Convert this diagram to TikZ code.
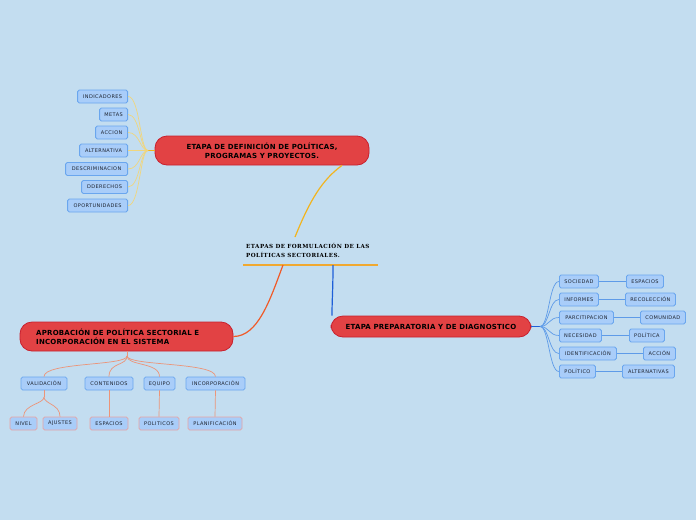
\documentclass[tikz,border=0pt]{standalone}
\usepackage{fontspec}
\newfontfamily\dvs{DejaVu Sans}[LetterSpace=8]
\newfontfamily\dvr{DejaVu Sans}[LetterSpace=3]
\newfontfamily\dvserif{DejaVu Serif}[LetterSpace=8]
\definecolor{bg}{HTML}{C3DDF0}
\definecolor{boxfill}{HTML}{A9CDF9}
\definecolor{boxline}{HTML}{6AA6EE}
\definecolor{redfill}{HTML}{E24244}
\definecolor{redline}{HTML}{C8202E}
\definecolor{txtgray}{HTML}{1E2430}
\definecolor{orangeA}{HTML}{F2B41E}
\definecolor{underl}{HTML}{F0A830}
\definecolor{yellowL}{HTML}{F0D67E}
\definecolor{orangeB}{HTML}{F05A28}
\definecolor{salmon}{HTML}{EC9478}
\definecolor{pinkline}{HTML}{E8A3A3}
\definecolor{blueA}{HTML}{1E5FD8}
\definecolor{blueL}{HTML}{5E9BE8}
\tikzset{
  sbox/.style={draw=boxline, fill=boxfill, rounded corners=1.6pt, line width=0.8pt,
    font=\dvs\fontsize{5}{5}\selectfont, text=txtgray, minimum height=13pt, inner sep=0pt},
  pbox/.style={sbox, draw=pinkline},
  redfont/.style={font=\dvr\bfseries\fontsize{7}{9}\selectfont, text=black},
  redbox/.style={draw=redline, fill=redfill, rounded corners=12pt, line width=0.8pt,
    redfont, inner sep=0pt},
}
\begin{document}
\begin{tikzpicture}[x=1pt,y=-1pt]
\fill[bg] (0,0) rectangle (696,520);
\useasboundingbox (0,0) rectangle (696,520);

% central
\node[font=\dvserif\bfseries\fontsize{5.6}{8.5}\selectfont, align=left, anchor=west, inner sep=0pt] (ctr) at (246,250.5)
  {ETAPAS DE FORMULACIÓN DE LAS\\POLÍTICAS SECTORIALES.};
\coordinate (ul1) at (243,265);
\coordinate (ul2) at (378,265);
\draw[underl, line width=1.2pt] (ul1) -- (ul2);
\coordinate (c1) at (295,237);
\coordinate (c2) at (283,265);
\coordinate (c3) at (333,265);

% branch 1
\node[redbox, minimum width=214pt, minimum height=29pt, align=center] (b1) at (262,150.5)
  {ETAPA DE DEFINICIÓN DE POLÍTICAS,\\PROGRAMAS Y PROYECTOS.};
\draw[orangeA, line width=1.2pt] (c1) .. controls (310,200) and (322,180) .. ([xshift=80pt]b1.south);
\coordinate (b1l) at (148,150.5);
\draw[orangeA, line width=1.2pt] (b1.west) -- (b1l);

\node[sbox, minimum width=50pt, anchor=east] (i1) at (128,96.5) {INDICADORES};
\node[sbox, minimum width=28pt, anchor=east] (i2) at (128,114.5) {METAS};
\node[sbox, minimum width=32pt, anchor=east] (i3) at (128,132.5) {ACCION};
\node[sbox, minimum width=48pt, anchor=east] (i4) at (128,150.5) {ALTERNATIVA};
\node[sbox, minimum width=62pt, anchor=east] (i5) at (128,169) {DESCRIMINACION};
\node[sbox, minimum width=46pt, anchor=east] (i6) at (128,187) {DDERECHOS};
\node[sbox, minimum width=60pt, anchor=east] (i7) at (128,205.5) {OPORTUNIDADES};
\foreach \n in {i1,i2,i3,i4,i5,i6,i7}{
  \draw[yellowL, line width=0.7pt] (b1l) .. controls (140,150.5) and (140,0|-\n.east) .. (\n.east);
}

% branch 2
\node[redbox, minimum width=213pt, minimum height=29pt] (b2) at (126.5,336.5) {};
\node[redfont, align=left, anchor=west, inner sep=0pt] (b2t) at (36,336.5)
  {APROBACIÓN DE POLÍTICA SECTORIAL E\\INCORPORACIÓN EN EL SISTEMA};
\draw[orangeB, line width=1.2pt] (c2) .. controls (270,300) and (258,336.5) .. (b2.east);

\node[sbox, minimum width=46pt] (v1) at (44,383.5) {VALIDACIÓN};
\node[sbox, minimum width=48pt] (v2) at (109,383.5) {CONTENIDOS};
\node[sbox, minimum width=31pt] (v3) at (159.5,383.5) {EQUIPO};
\node[sbox, minimum width=59pt] (v4) at (215.5,383.5) {INCORPORACIÓN};
\coordinate (b2b) at (127,356);
\draw[salmon, line width=0.8pt] ([xshift=0.5pt]b2.south) -- (b2b);
\foreach \n in {v1,v2,v3,v4}{
  \draw[salmon, line width=0.7pt] (b2b) .. controls (127,366) and (\n.north|-0,362) .. (\n.north);
}
\node[pbox, minimum width=27pt] (g1) at (23.5,423.5) {NIVEL};
\node[pbox, minimum width=34pt] (g2) at (60,423.5) {AJUSTES};
\node[pbox, minimum width=38pt] (g3) at (109,423.5) {ESPACIOS};
\node[pbox, minimum width=40pt] (g4) at (159,423.5) {POLITICOS};
\node[pbox, minimum width=54pt] (g5) at (215,423.5) {PLANIFICACIÓN};
\coordinate (v1b) at (44,397);
\draw[salmon, line width=0.7pt] (v1.south) -- (v1b);
\draw[salmon, line width=0.7pt] (v1b) .. controls (44,404) and (24,404) .. (g1.north);
\draw[salmon, line width=0.7pt] (v1b) .. controls (44,404) and (60,404) .. (g2.north);
\draw[salmon, line width=0.7pt] (v2.south) -- (g3.north);
\draw[salmon, line width=0.7pt] (v3.south) -- (g4.north);
\draw[salmon, line width=0.7pt] (v4.south) -- (g5.north);

% branch 3
\node[redbox, minimum width=200pt, minimum height=21pt] (b3) at (431,326.5) {ETAPA PREPARATORIA Y DE DIAGNOSTICO};
\draw[blueA, line width=1.2pt] (c3) .. controls (333,290) and (332,300) .. ([xshift=-99pt]b3.north);
\coordinate (b3r) at (540,326.5);
\draw[blueA, line width=1pt] (b3.east) -- (b3r);

\node[sbox, minimum width=39pt, anchor=west] (s1) at (559,281.5) {SOCIEDAD};
\node[sbox, minimum width=39pt, anchor=west] (s2) at (559,299.5) {INFORMES};
\node[sbox, minimum width=54pt, anchor=west] (s3) at (559,317.5) {PARCITIPACION};
\node[sbox, minimum width=42pt, anchor=west] (s4) at (559,335.5) {NECESIDAD};
\node[sbox, minimum width=57pt, anchor=west] (s5) at (559,353.5) {IDENTIFICACIÓN};
\node[sbox, minimum width=36pt, anchor=west] (s6) at (559,371.5) {POLÍTICO};
\foreach \n in {s1,s2,s3,s4,s5,s6}{
  \draw[blueL, line width=0.7pt] (b3r) .. controls (549,326.5) and (549,0|-\n.west) .. (\n.west);
}
\node[sbox, minimum width=37pt, anchor=west] (t1) at (626,281.5) {ESPACIOS};
\node[sbox, minimum width=50pt, anchor=west] (t2) at (625,299.5) {RECOLECCIÓN};
\node[sbox, minimum width=45pt, anchor=west] (t3) at (640,317.5) {COMUNIDAD};
\node[sbox, minimum width=35pt, anchor=west] (t4) at (629,335.5) {POLÍTICA};
\node[sbox, minimum width=32pt, anchor=west] (t5) at (643,353.5) {ACCIÓN};
\node[sbox, minimum width=52pt, anchor=west] (t6) at (622,371.5) {ALTERNATIVAS};
\draw[blueL, line width=0.7pt] (s1.east) -- (t1.west);
\draw[blueL, line width=0.7pt] (s2.east) -- (t2.west);
\draw[blueL, line width=0.7pt] (s3.east) -- (t3.west);
\draw[blueL, line width=0.7pt] (s4.east) -- (t4.west);
\draw[blueL, line width=0.7pt] (s5.east) -- (t5.west);
\draw[blueL, line width=0.7pt] (s6.east) -- (t6.west);
\end{tikzpicture}
\end{document}
